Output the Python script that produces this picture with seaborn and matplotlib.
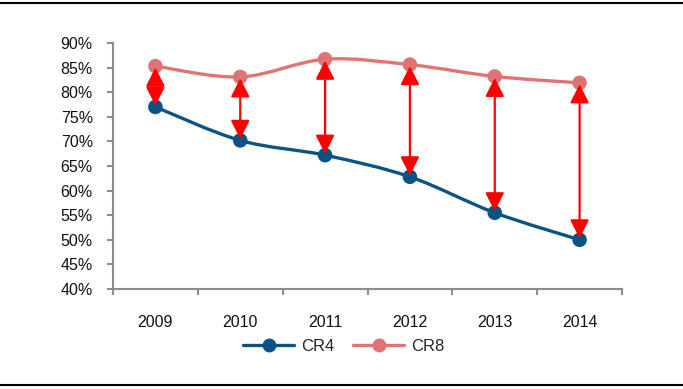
import numpy as np
import pandas as pd
import matplotlib
matplotlib.use("Agg")
import matplotlib.pyplot as plt
from matplotlib.path import Path
from matplotlib.patches import PathPatch
from matplotlib.lines import Line2D
import seaborn as sns

years = ["2009", "2010", "2011", "2012", "2013", "2014"]
cr4 = [77.0, 70.2, 67.2, 62.8, 55.5, 50.0]
cr8 = [85.3, 83.1, 86.7, 85.6, 83.2, 81.9]
yticks = [40, 45, 50, 55, 60, 65, 70, 75, 80, 85, 90]

C4 = "#0B5385"
C8 = "#E07474"

sns.set_theme(style="white")
plt.rcParams["font.family"] = ["Liberation Sans", "DejaVu Sans"]

fig = plt.figure(figsize=(6.83, 3.89), dpi=100)
ax = fig.add_axes([113/683, 1-289/389, (622-113)/683, (289-43)/389])

x = np.arange(len(years))
df = pd.DataFrame({"x": np.concatenate([x, x]),
                   "v": cr4 + cr8,
                   "s": ["CR4"]*len(years) + ["CR8"]*len(years)})


def smooth_path(xs, ys):
    pts = np.column_stack([xs, ys]).astype(float)
    n = len(pts)
    verts = [pts[0]]
    codes = [Path.MOVETO]
    for i in range(n-1):
        p0 = pts[i-1] if i > 0 else pts[i]
        p1 = pts[i]
        p2 = pts[i+1]
        p3 = pts[i+2] if i+2 < n else pts[i+1]
        c1 = p1 + (p2 - p0) / 6.0
        c2 = p2 - (p3 - p1) / 6.0
        verts += [c1, c2, p2]
        codes += [Path.CURVE4]*3
    return Path(verts, codes)


for vals, col in [(cr8, C8), (cr4, C4)]:
    ax.add_patch(PathPatch(smooth_path(x, vals), facecolor="none",
                           edgecolor=col, lw=2.4, zorder=2,
                           capstyle="round", joinstyle="round"))

sns.scatterplot(data=df, x="x", y="v", hue="s", palette={"CR4": C4, "CR8": C8},
                s=110, edgecolor="none", legend=False, ax=ax, zorder=3)

for i in range(len(years)):
    ax.annotate("", xy=(x[i], cr8[i]), xytext=(x[i], cr4[i]),
                arrowprops=dict(arrowstyle="<|-|>,head_length=0.75,head_width=0.38",
                                color="#FF0000", lw=1.6, shrinkA=1, shrinkB=1,
                                mutation_scale=15),
                zorder=4)

ax.set_xlim(-0.5, len(years) - 0.5)
ax.set_ylim(40, 90)
ax.set_yticks(yticks)
ax.set_yticklabels([f"{t}%" for t in yticks])
ax.set_xticks(np.arange(-0.5, len(years), 1.0))
ax.set_xticklabels([])
ax.set_xticks(x, minor=True)
ax.set_xticklabels(years, minor=True)
ax.set_xlabel("")
ax.set_ylabel("")

for sp in ["top", "right"]:
    ax.spines[sp].set_visible(False)
for sp in ["left", "bottom"]:
    ax.spines[sp].set_color("#8C8C8C")
    ax.spines[sp].set_linewidth(1.5)

ax.tick_params(axis="y", which="major", direction="out", length=4.5, width=1.5,
               color="#8C8C8C", labelsize=11.5, pad=10, labelcolor="#111111", left=True)
ax.tick_params(axis="x", which="major", direction="out", length=4.5, width=1.5,
               color="#8C8C8C", bottom=True)
ax.tick_params(axis="x", which="minor", length=0, pad=19, labelsize=11.5,
               labelcolor="#111111")

handles = [Line2D([0], [0], color=C4, lw=2.4, marker="o", markersize=9),
           Line2D([0], [0], color=C8, lw=2.4, marker="o", markersize=9)]
fig.legend(handles, ["CR4", "CR8"], loc="center", bbox_to_anchor=(0.503, 0.11),
           ncol=2, frameon=False, fontsize=12, handlelength=3.05,
           columnspacing=1.15, handletextpad=0.4)

fig.add_artist(Line2D([0, 1], [1-2.5/389, 1-2.5/389], color="black", lw=1.5,
                      transform=fig.transFigure))
fig.add_artist(Line2D([0, 1], [1-384.5/389, 1-384.5/389], color="black", lw=1.5,
                      transform=fig.transFigure))

fig.savefig("out.png", dpi=100)
